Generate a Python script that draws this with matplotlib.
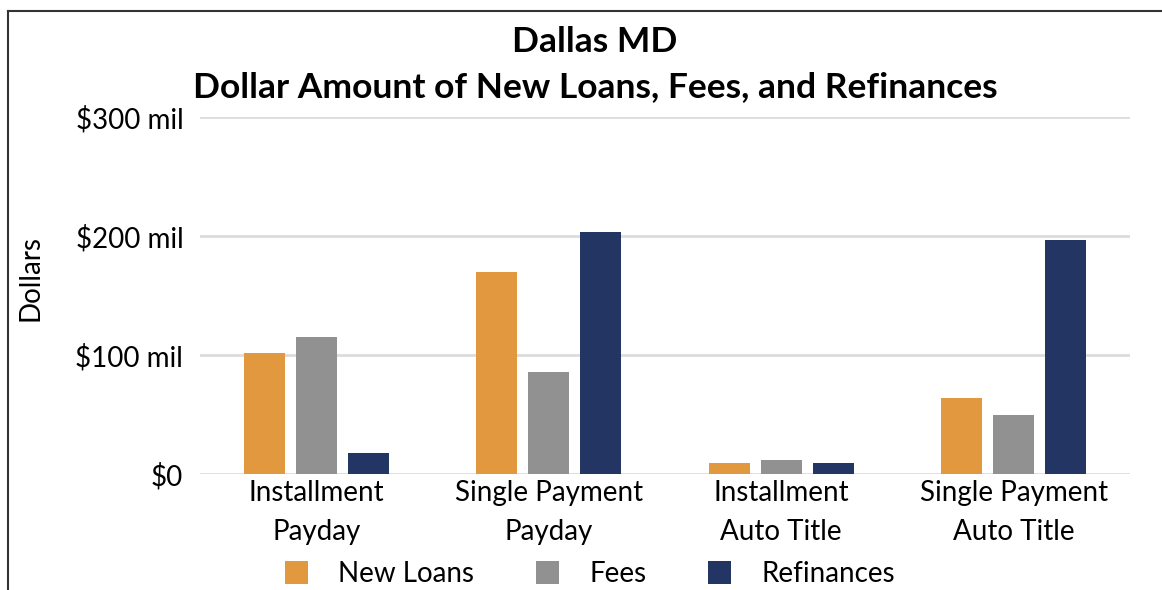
import matplotlib.pyplot as plt
import numpy as np
from matplotlib.lines import Line2D
from matplotlib.patches import Patch

plt.rcParams['font.family'] = ['Lato', 'DejaVu Sans']

# Data (millions of dollars)
categories = ['Installment\nPayday', 'Single Payment\nPayday', 'Installment\nAuto Title', 'Single Payment\nAuto Title']
new_loans = [102, 170, 9, 64]
fees = [115, 86, 12, 50]
refinances = [18, 203, 9, 197]
series_names = ['New Loans', 'Fees', 'Refinances']
colors = ['#E1983F', '#919191', '#233562']
yticks = [0, 100, 200, 300]
ytick_labels = ['$0', '$100 mil', '$200 mil', '$300 mil']

fig = plt.figure(figsize=(11.62, 5.9), dpi=100)
ax = fig.add_axes([200 / 1162, 1 - 474 / 590, 930 / 1162, 357 / 590])

x = np.arange(len(categories))
width = 0.177
pitch = 0.223
for i, (vals, name, c) in enumerate(zip([new_loans, fees, refinances], series_names, colors)):
    ax.bar(x + (i - 1) * pitch, vals, width, color=c, label=name, zorder=3)

# Axes styling
ax.set_xlim(-0.5, len(categories) - 0.5)
ax.set_ylim(0, 300)
ax.set_yticks(yticks)
ax.set_yticklabels(ytick_labels, fontsize=20)
ax.set_xticks(x)
ax.set_xticklabels(categories, fontsize=20, linespacing=1.65)
ax.tick_params(length=0, pad=12)
ax.tick_params(axis='x', pad=4)
ax.grid(axis='y', color='#DCDCDC', linewidth=2, zorder=0)
for s in ax.spines.values():
    s.set_visible(False)
ax.set_ylabel('Dollars', fontsize=20)
ax.yaxis.set_label_coords(-0.168, 0.55)

# Title
fig.text(595 / 1162, 1 - 42 / 590, 'Dallas MD', ha='center', va='center', fontsize=25.5, fontweight='bold')
fig.text(595 / 1162, 1 - 87 / 590, 'Dollar Amount of New Loans, Fees, and Refinances', ha='center', va='center',
         fontsize=25.5, fontweight='bold')

# Legend
handles = [Patch(facecolor=c, edgecolor='none') for c in colors]
fig.legend(handles, series_names, loc='center', bbox_to_anchor=(590 / 1162, 1 - 574 / 590), ncol=3,
           frameon=False, fontsize=20, handlelength=0.83, handleheight=0.9,
           handletextpad=1.08, columnspacing=2.23)

# Frame lines (left and top)
fig.add_artist(Line2D([8 / 1162, 8 / 1162], [0, 1 - 11 / 590], transform=fig.transFigure, color='#333333', lw=1.5))
fig.add_artist(Line2D([8 / 1162, 1], [1 - 11 / 590, 1 - 11 / 590], transform=fig.transFigure, color='#333333', lw=1.5))

fig.savefig('out.png', dpi=100)
